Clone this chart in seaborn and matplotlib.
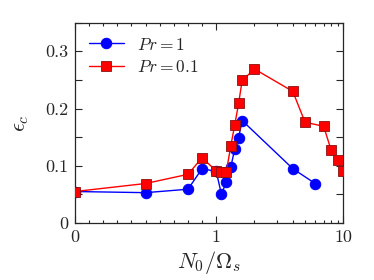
import numpy as np
import pandas as pd
import matplotlib
matplotlib.use("Agg")
import matplotlib.pyplot as plt
import seaborn as sns
from matplotlib.ticker import FixedLocator, MultipleLocator, FuncFormatter

# data
x_pr1 = [0, 0.5, 0.8, 0.9, 1.0, 1.1, 1.2, 1.3, 1.4, 1.5, 1.6, 4, 6]
y_pr1 = [0.055, 0.053, 0.059, 0.095, 0.090, 0.050, 0.072, 0.097, 0.130, 0.149, 0.179, 0.095, 0.069]
x_pr01 = [0, 0.5, 0.8, 0.9, 1.0, 1.1, 1.2, 1.3, 1.4, 1.5, 1.6, 2, 4, 5, 7, 8, 9, 10]
y_pr01 = [0.055, 0.069, 0.085, 0.114, 0.091, 0.089, 0.089, 0.134, 0.172, 0.209, 0.249, 0.269,
          0.230, 0.176, 0.169, 0.128, 0.110, 0.090]
labels = [r"$Pr=1$", r"$Pr=0.1$"]
x_ticks = [0, 1, 10]
y_ticks = [0, 0.1, 0.2, 0.3]

sns.set_style("ticks")
plt.rcParams["font.family"] = ["cmr10", "DejaVu Serif"]
plt.rcParams["mathtext.fontset"] = "cm"
plt.rcParams["axes.unicode_minus"] = False
plt.rcParams["axes.formatter.use_mathtext"] = True

fig = plt.figure(figsize=(3.74, 2.8), dpi=100)
ax = fig.add_axes([0.2005, 0.2036, 0.918 - 0.2005, 0.919 - 0.2036])

df1 = pd.DataFrame({"x": x_pr1, "y": y_pr1})
df2 = pd.DataFrame({"x": x_pr01, "y": y_pr01})
sns.lineplot(data=df1, x="x", y="y", ax=ax, sort=False, color="blue", lw=1.0,
             marker="o", markersize=7.5, markeredgecolor="blue", markerfacecolor="blue",
             label=labels[0], zorder=3)
sns.lineplot(data=df2, x="x", y="y", ax=ax, sort=False, color="red", lw=1.0,
             marker="s", markersize=7.5, markeredgecolor="#8a1010", markeredgewidth=0.6,
             markerfacecolor="red", label=labels[1], zorder=4)

ax.set_xscale("symlog", linthresh=1, linscale=1)
ax.set_xlim(0, 10)
ax.set_ylim(0, 0.35)
ax.xaxis.set_major_locator(FixedLocator(x_ticks))
minors = [i / 10 for i in range(1, 10)] + list(range(2, 10))
ax.xaxis.set_minor_locator(FixedLocator(minors))
ax.xaxis.set_major_formatter(FuncFormatter(lambda v, p: f"{v:g}"))
ax.yaxis.set_major_locator(FixedLocator(y_ticks))
ax.yaxis.set_minor_locator(MultipleLocator(0.05))
ax.yaxis.set_major_formatter(FuncFormatter(lambda v, p: f"{v:g}"))

ax.tick_params(which="both", direction="in", top=True, right=True, width=0.8,
               labelsize=13, pad=5)
ax.tick_params(axis="x", which="major", length=5)
ax.tick_params(axis="x", which="minor", length=2.5)
ax.tick_params(axis="y", which="both", length=5)
for s in ax.spines.values():
    s.set_linewidth(0.9)

ax.set_xlabel(r"$N_0/\Omega_s$", fontsize=16, labelpad=3)
ax.set_ylabel(r"$\epsilon_c$", fontsize=16, labelpad=10)

leg = ax.legend(loc="upper left", frameon=False, fontsize=12.5, handlelength=2.0,
                borderaxespad=0.4, labelspacing=0.35, handletextpad=0.8)

fig.savefig("out.png", dpi=100)
